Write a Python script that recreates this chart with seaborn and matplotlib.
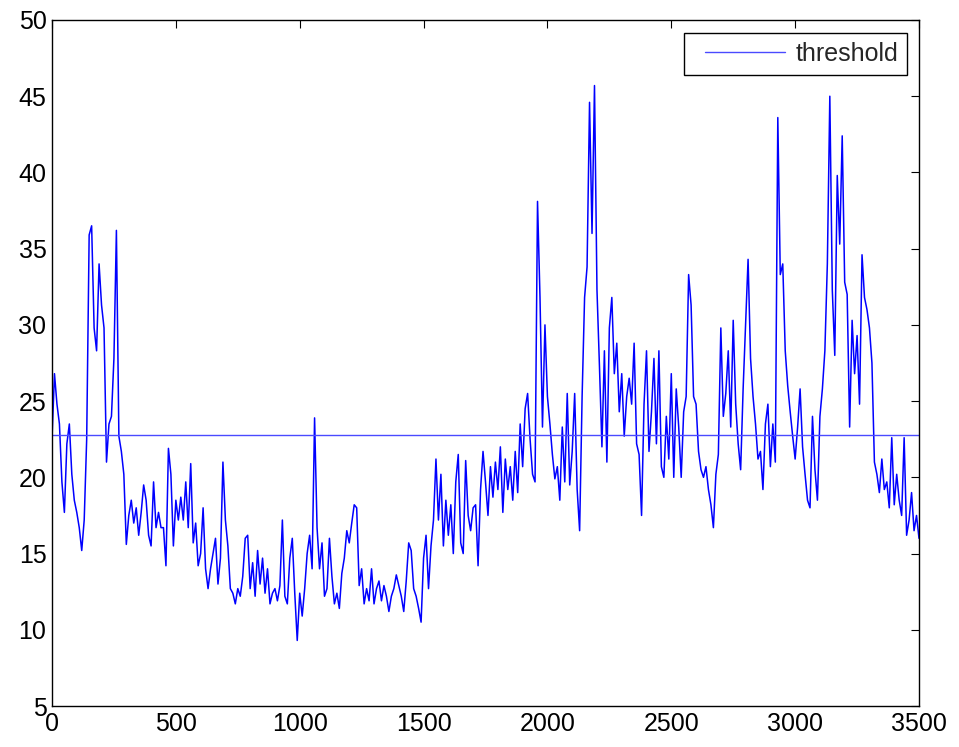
import numpy as np
import pandas as pd
import matplotlib
matplotlib.use("Agg")
import matplotlib.pyplot as plt
from matplotlib.legend_handler import HandlerLine2D
import seaborn as sns

# ---- data (one value every 10 samples) ----
sample_step = 10
values = [
    # 0 - 440
    22.5, 26.8, 24.8, 23.5, 19.7, 17.7, 22.2, 23.5, 20.2, 18.5,
    17.7, 16.7, 15.2, 17.2, 22.5, 35.9, 36.5, 29.8, 28.3, 34.0,
    31.3, 29.8, 21.0, 23.5, 24.0, 27.8, 36.2, 22.7, 21.7, 20.2,
    15.6, 17.5, 18.5, 17.0, 18.0, 16.2, 17.7, 19.5, 18.5, 16.2,
    15.5, 19.7, 16.7, 17.7, 16.7,
    # 450 - 870
    16.7, 14.2, 21.9, 20.2, 15.5, 18.5, 17.2, 18.7, 17.2, 19.7,
    16.7, 20.9, 15.7, 17.0, 14.2, 15.0, 18.0, 14.0, 12.7, 14.0,
    15.0, 16.0, 13.0, 14.7, 21.0, 17.2, 15.5, 12.7, 12.4, 11.7,
    12.7, 12.2, 13.5, 16.0, 16.2, 12.7, 14.4, 12.2, 15.2, 13.0,
    14.7, 12.4, 14.0,
    # 880 - 1300
    11.7, 12.4, 12.7, 11.9, 12.9, 17.2, 12.2, 11.7, 14.7, 16.0,
    12.4, 9.3, 12.4, 10.9, 12.7, 15.0, 16.2, 14.0, 23.9, 16.7,
    14.0, 15.7, 12.2, 12.7, 16.0, 13.5, 11.7, 12.4, 11.4, 13.7,
    14.7, 16.5, 15.7, 17.0, 18.2, 18.0, 12.9, 14.0, 11.7, 12.7,
    11.9, 14.0, 11.7,
    # 1310 - 1740
    12.7, 13.2, 11.9, 12.9, 12.2, 11.2, 12.2, 12.7, 13.6, 12.9,
    12.2, 11.2, 13.2, 15.7, 15.2, 12.7, 12.2, 11.4, 10.5, 14.7,
    16.2, 12.7, 15.5, 17.2, 21.2, 17.2, 20.2, 15.5, 18.5, 16.2,
    18.2, 15.0, 19.7, 21.5, 15.7, 15.0, 21.1, 17.5, 16.5, 18.0,
    18.2, 14.2, 19.2, 21.7,
    # 1750 - 2180
    19.7, 17.5, 20.7, 18.7, 21.0, 19.2, 22.0, 17.7, 21.2, 19.2,
    20.7, 18.5, 21.7, 19.0, 23.5, 20.7, 24.5, 25.5, 22.5, 20.2,
    19.7, 38.1, 31.8, 23.3, 30.0, 25.3, 23.5, 21.5, 19.9, 20.7,
    18.5, 23.3, 19.7, 25.5, 19.5, 21.7, 25.5, 19.2, 16.5, 25.3,
    31.8, 33.8, 44.6, 36.0,
    # 2190 - 2620
    45.7, 32.3, 27.3, 22.0, 28.3, 21.0, 29.8, 31.8, 26.8, 28.8,
    24.3, 26.8, 22.7, 25.3, 26.5, 24.8, 28.8, 22.2, 21.5, 17.5,
    24.8, 28.3, 21.7, 24.3, 27.8, 22.2, 28.3, 20.7, 20.0, 24.0,
    21.2, 26.8, 20.0, 25.8, 23.3, 20.0, 24.3, 25.3, 33.3, 31.3,
    25.3, 24.8, 21.7, 20.5,
    # 2630 - 3050
    20.0, 20.7, 19.2, 18.2, 16.7, 20.2, 21.5, 29.8, 24.0, 25.5,
    28.3, 23.3, 30.3, 24.8, 22.2, 20.5, 25.8, 30.0, 34.3, 27.8,
    25.3, 23.5, 21.2, 21.7, 19.2, 23.5, 24.8, 20.7, 23.5, 21.0,
    43.6, 33.3, 34.0, 28.3, 26.0, 24.3, 22.7, 21.2, 23.3, 25.8,
    22.0, 20.2, 18.5,
    # 3060 - 3500
    18.0, 24.0, 20.5, 18.5, 24.0, 25.8, 28.3, 34.0, 45.0, 32.3,
    28.0, 39.8, 35.3, 42.4, 32.8, 32.0, 23.3, 30.3, 26.8, 29.3,
    24.8, 34.6, 31.8, 31.0, 29.8, 27.5, 21.0, 20.2, 19.0, 21.2,
    19.2, 19.7, 18.0, 22.6, 18.2, 20.2, 18.5, 17.5, 22.6, 16.2,
    17.2, 19.0, 16.5, 17.5, 16.0,
]
threshold = 22.8
legend_label = "threshold"
x_ticks = [0, 500, 1000, 1500, 2000, 2500, 3000, 3500]
y_ticks = [5, 10, 15, 20, 25, 30, 35, 40, 45, 50]

samples = np.arange(len(values)) * sample_step
df = pd.DataFrame({"sample": samples, "value": values})

sns.set_style("white")
plt.rcParams["font.family"] = ["Liberation Sans", "DejaVu Sans"]


class ShiftedLineHandler(HandlerLine2D):
    """Legend line that starts a bit to the right of the legend's padding."""
    def __init__(self, shift_em=0.5, **kw):
        super().__init__(**kw)
        self.shift_em = shift_em

    def create_artists(self, legend, orig_handle, xdescent, ydescent,
                       width, height, fontsize, trans):
        shift = self.shift_em * fontsize
        return super().create_artists(legend, orig_handle, xdescent - shift,
                                      ydescent, width - shift, height,
                                      fontsize, trans)


W, H = 959, 747
fig = plt.figure(figsize=(W / 100, H / 100), dpi=100)
ax = fig.add_axes([52 / W, 1 - 706 / H, (919 - 52) / W, (706 - 20) / H])

sns.lineplot(data=df, x="sample", y="value", ax=ax, color="#0000ff",
             linewidth=1.1, estimator=None, legend=False)
thr_line = ax.axhline(threshold, color="#4a4aff", linewidth=1.0,
                      label=legend_label)

ax.set_xlim(0, 3500)
ax.set_ylim(5, 50)
ax.set_xticks(x_ticks)
ax.set_yticks(y_ticks)
ax.set_xlabel("")
ax.set_ylabel("")
ax.tick_params(direction="in", top=True, right=True, length=6, width=0.8,
               labelsize=18, colors="black", pad=4)
for s in ax.spines.values():
    s.set_linewidth(1.0)
    s.set_color("black")

leg = ax.legend(handles=[thr_line], labels=[legend_label],
                handler_map={thr_line: ShiftedLineHandler()},
                loc="upper right",
                bbox_to_anchor=((907 - 52) / 867, (706 - 33) / 686),
                borderaxespad=0.0, fontsize=18, frameon=True, fancybox=False,
                edgecolor="black", handlelength=3.7, handletextpad=0.4,
                borderpad=0.36)
leg.get_frame().set_linewidth(1.0)
leg.get_frame().set_alpha(1.0)

fig.savefig("out.png", dpi=100)
